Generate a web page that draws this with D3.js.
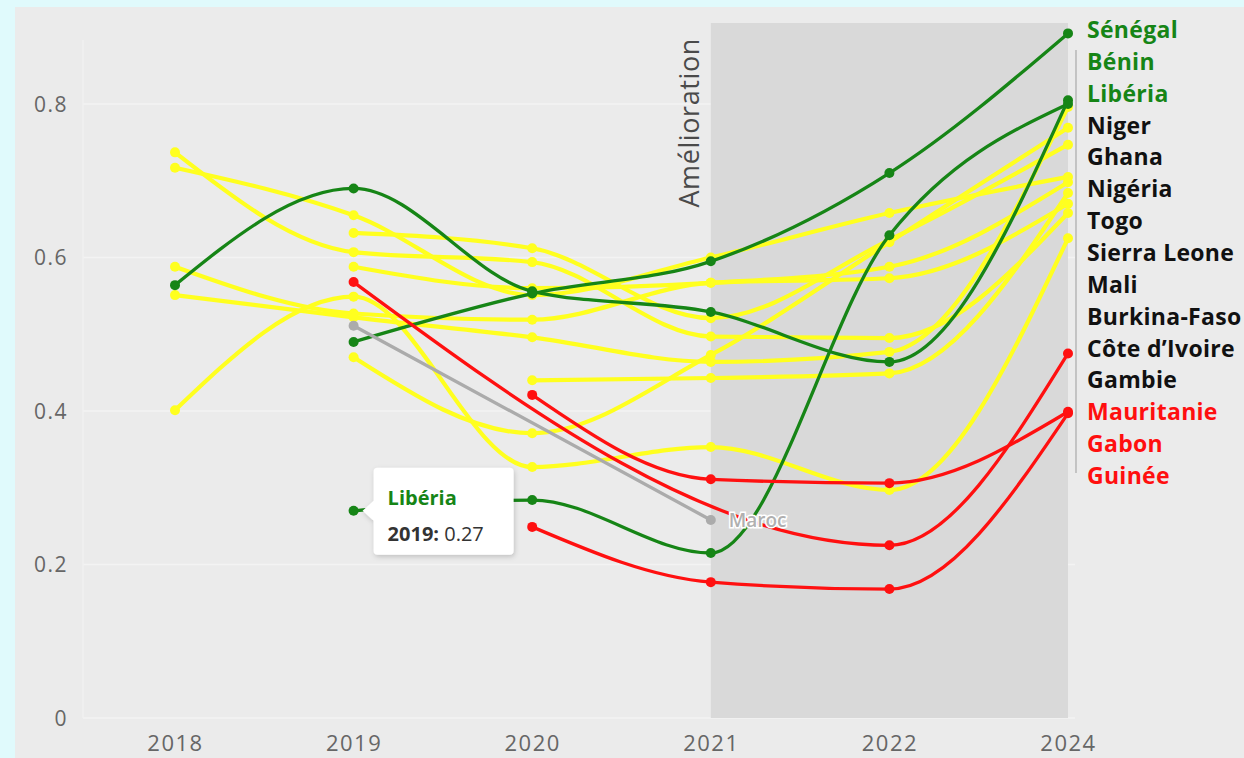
<!DOCTYPE html>
<html lang="fr">
<head>
<meta charset="utf-8">
<script src="https://cdn.jsdelivr.net/npm/d3@7"></script>
<style>
  html, body { margin: 0; padding: 0; background: #e0fafc; }
  svg { display: block; }
  text { font-family: "Open Sans", "Noto Sans", sans-serif; }
</style>
</head>
<body>
<svg id="chart" width="1244" height="758"></svg>
<script>
// Années (2023 absente de la série)
const years = ["2018", "2019", "2020", "2021", "2022", "2024"];
const yTicks = [0, 0.2, 0.4, 0.6, 0.8];

// Valeurs par pays, une entrée par année (null = pas de donnée)
const senegal      = [null, 0.490, 0.553, 0.595, 0.710, 0.892];
const benin        = [0.564, 0.690, 0.556, 0.529, 0.464, 0.805];
const liberia      = [null, 0.270, 0.284, 0.215, 0.629, 0.800];

const niger        = [0.551, 0.522, 0.496, 0.464, 0.477, 0.796];
const ghana        = [null, 0.470, 0.371, 0.473, 0.620, 0.769];
const nigeria      = [null, 0.632, 0.612, 0.521, 0.623, 0.747];
const togo         = [0.717, 0.655, 0.551, 0.600, 0.658, 0.705];
const sierraLeone  = [null, 0.588, 0.560, 0.567, 0.588, 0.698];
const mali         = [null, null, 0.440, 0.443, 0.449, 0.684];
const burkinaFaso  = [0.588, 0.527, 0.519, 0.567, 0.573, 0.670];
const coteIvoire   = [0.737, 0.607, 0.594, 0.497, 0.495, 0.658];
const gambie       = [0.401, 0.549, 0.327, 0.353, 0.297, 0.625];

const mauritanie   = [null, 0.568, null, null, 0.225, 0.475];
const gabon        = [null, null, 0.421, 0.311, 0.306, 0.399];
const guinee       = [null, null, 0.249, 0.177, 0.168, 0.397];

const maroc        = [null, 0.511, null, 0.258, null, null];

const highlightYears = ["2021", "2024"];
const highlightLabel = "Amélioration";

const groupColor = { up: "#168516", mid: "#ffff1f", down: "#ff1010", other: "#ababab" };
const labelColor = { up: "#168516", mid: "#111111", down: "#ff0f0f" };

const series = [
  { name: "Sénégal", group: "up", values: senegal },
  { name: "Bénin", group: "up", values: benin },
  { name: "Libéria", group: "up", values: liberia },
  { name: "Niger", group: "mid", values: niger },
  { name: "Ghana", group: "mid", values: ghana },
  { name: "Nigéria", group: "mid", values: nigeria },
  { name: "Togo", group: "mid", values: togo },
  { name: "Sierra Leone", group: "mid", values: sierraLeone },
  { name: "Mali", group: "mid", values: mali },
  { name: "Burkina-Faso", group: "mid", values: burkinaFaso },
  { name: "Côte d’Ivoire", group: "mid", values: coteIvoire },
  { name: "Gambie", group: "mid", values: gambie },
  { name: "Mauritanie", group: "down", values: mauritanie },
  { name: "Gabon", group: "down", values: gabon },
  { name: "Guinée", group: "down", values: guinee },
  { name: "Maroc", group: "other", values: maroc, inline: true }
];

// Infobulle affichée
const tip = { name: "Libéria", year: "2019" };

const svg = d3.select("#chart");
const W = 1244, H = 758;

// Panneau gris
svg.append("rect").attr("x", 15).attr("y", 7).attr("width", W - 15).attr("height", H - 7).attr("fill", "#ebebeb");

const x = d3.scalePoint().domain(years).range([175, 1068]);
const y = d3.scaleLinear().domain([0, 0.9]).range([718, 718 - 0.9 * 767.5]);

// Grille
const plotLeft = 83, plotRight = 1075;
svg.append("g").selectAll("line").data(yTicks).join("line")
  .attr("x1", plotLeft).attr("x2", plotRight)
  .attr("y1", d => y(d)).attr("y2", d => y(d))
  .attr("stroke", "#f3f3f3").attr("stroke-width", 1.5);
svg.append("line").attr("x1", plotLeft).attr("x2", plotLeft)
  .attr("y1", 40).attr("y2", 718).attr("stroke", "#f1f1f1").attr("stroke-width", 1.5);

// Zone d'amélioration
svg.append("rect")
  .attr("x", x(highlightYears[0])).attr("y", 23)
  .attr("width", x(highlightYears[1]) - x(highlightYears[0]))
  .attr("height", 718 - 23)
  .attr("fill", "#d9d9d9");
svg.append("text")
  .attr("transform", `translate(${x(highlightYears[0]) - 12},38) rotate(-90)`)
  .attr("text-anchor", "end")
  .attr("font-size", 27)
  .attr("letter-spacing", "0.6px")
  .attr("fill", "#4a4a4a")
  .text(highlightLabel);

// Axes
const yAxis = d3.axisLeft(y).tickValues(yTicks).tickSize(0).tickPadding(0)
  .tickFormat(d => d === 0 ? "0" : d3.format(".1f")(d));
svg.append("g").attr("transform", "translate(68,0)").call(yAxis)
  .call(g => g.select(".domain").remove())
  .call(g => g.selectAll("text").attr("font-size", 21).attr("fill", "#666")
    .attr("font-family", "Roboto, sans-serif").attr("letter-spacing", "1.5px").attr("dy", "0.35em"));

const xAxis = d3.axisBottom(x).tickSize(0).tickPadding(0);
svg.append("g").attr("transform", "translate(0,735)").call(xAxis)
  .call(g => g.select(".domain").remove())
  .call(g => g.selectAll("text").attr("font-size", 22).attr("fill", "#666")
    .attr("font-family", "Roboto, sans-serif").attr("letter-spacing", "1.5px").attr("dy", "0.71em"));

// Lignes
const line = d3.line()
  .x(d => x(d.year)).y(d => y(d.value))
  .curve(d3.curveMonotoneX);

const order = ["mid", "up", "other", "down"];
const drawn = order.flatMap(g => series.filter(s => s.group === g));
const pts = s => years.map((yr, i) => ({ year: yr, value: s.values[i] })).filter(d => d.value != null);

const gSeries = svg.append("g");
drawn.forEach(s => {
  const p = pts(s);
  const g = gSeries.append("g");
  g.append("path").attr("d", line(p)).attr("fill", "none")
    .attr("stroke", groupColor[s.group])
    .attr("stroke-width", s.group === "mid" ? 4.2 : 3.3)
    .attr("stroke-linecap", "round");
  g.selectAll("circle").data(p).join("circle")
    .attr("cx", d => x(d.year)).attr("cy", d => y(d.value))
    .attr("r", 5).attr("fill", groupColor[s.group]);
});

// Étiquette en ligne (Maroc)
series.filter(s => s.inline).forEach(s => {
  const p = pts(s); const last = p[p.length - 1];
  svg.append("text").attr("x", x(last.year) + 18).attr("y", y(last.value))
    .attr("dy", "0.35em").attr("font-size", 19).attr("font-weight", 600)
    .attr("fill", "#b0b0b0").attr("stroke", "#ffffff").attr("stroke-width", 3)
    .attr("paint-order", "stroke").text(s.name);
});

// Étiquettes de fin, réparties régulièrement
const endLabels = series.filter(s => !s.inline)
  .map(s => ({ s, v: s.values[s.values.length - 1] }))
  .sort((a, b) => b.v - a.v);
const topY = 30, bottomY = 476;
const step = (bottomY - topY) / (endLabels.length - 1);
const lx = x(years[years.length - 1]);
svg.append("line").attr("x1", lx + 8).attr("x2", lx + 8)
  .attr("y1", 50).attr("y2", 473).attr("stroke", "#a9a9a9").attr("stroke-width", 1.2);
svg.append("g").selectAll("text").data(endLabels).join("text")
  .attr("x", lx + 19).attr("y", (d, i) => topY + i * step)
  .attr("dy", "0.35em").attr("font-size", 23).attr("font-weight", 700)
  .attr("letter-spacing", "0.3px")
  .attr("fill", d => labelColor[d.s.group])
  .text(d => d.s.name);

// Infobulle
const ts = series.find(s => s.name === tip.name);
const tv = ts.values[years.indexOf(tip.year)];
const tx = x(tip.year), ty = y(tv);
const bx = tx + 20, bw = 140, bh = 87, by = ty - 43;
const defs = svg.append("defs");
const f = defs.append("filter").attr("id", "shadow").attr("x", "-20%").attr("y", "-20%").attr("width", "140%").attr("height", "150%");
f.append("feDropShadow").attr("dx", 1).attr("dy", 2).attr("stdDeviation", 2.5).attr("flood-color", "#000").attr("flood-opacity", 0.18);
const tg = svg.append("g").attr("filter", "url(#shadow)");
tg.append("path")
  .attr("d", `M${bx + 4},${by} H${bx + bw - 4} Q${bx + bw},${by} ${bx + bw},${by + 4} V${by + bh - 4} Q${bx + bw},${by + bh} ${bx + bw - 4},${by + bh} H${bx + 4} Q${bx},${by + bh} ${bx},${by + bh - 4} V${ty + 10} L${tx + 9},${ty} L${bx},${ty - 10} V${by + 4} Q${bx},${by} ${bx + 4},${by} Z`)
  .attr("fill", "#ffffff");
svg.append("text").attr("x", bx + 14).attr("y", by + 37)
  .attr("font-size", 20).attr("font-weight", 700).attr("fill", "#168516").text(tip.name);
const t2 = svg.append("text").attr("x", bx + 14).attr("y", by + 73).attr("font-size", 20).attr("fill", "#333");
t2.append("tspan").attr("font-weight", 700).text(tip.year + ":");
t2.append("tspan").text(" " + d3.format(".2f")(tv));
</script>
</body>
</html>
